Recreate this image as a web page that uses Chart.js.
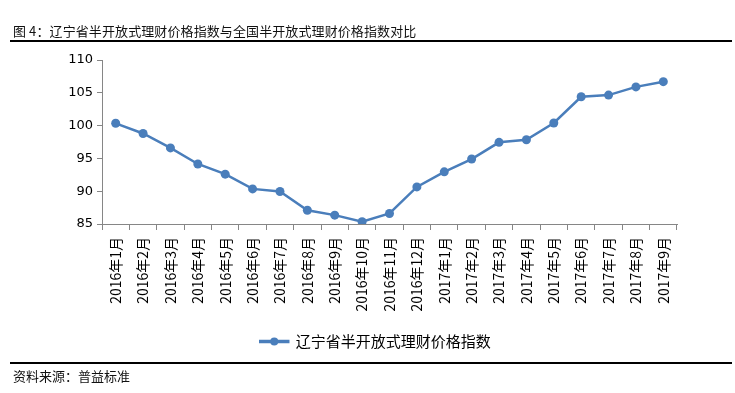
<!DOCTYPE html>
<html>
<head>
<meta charset="utf-8">
<script src="https://cdn.jsdelivr.net/npm/chart.js@4"></script>
<style>
    body { margin: 0; background: #fff; }
    #wrap { position: relative; width: 735px; height: 393px; overflow: hidden; }
    #grafico { position: absolute; left: 0; top: 0; }
    .titulo { position: absolute; left: 13px; top: 21px; font: 13px "Noto Sans CJK SC", sans-serif; color: #111; white-space: nowrap; letter-spacing: 0.1px; }
    .linea { position: absolute; left: 10px; width: 722px; height: 0; border-top: 2px solid #000; }
    .fuente { position: absolute; left: 13px; top: 366px; font: 13px "Noto Sans CJK SC", sans-serif; color: #111; white-space: nowrap; }
</style>
</head>
<body>
<div id="wrap">
    <canvas id="grafico" width="735" height="393"></canvas>
    <div class="titulo">图 4：辽宁省半开放式理财价格指数与全国半开放式理财价格指数对比</div>
    <div class="linea" style="top:40px"></div>
    <div class="linea" style="top:362px"></div>
    <div class="fuente">资料来源：普益标准</div>
</div>
<script>
const meses = [
    "2016年1月", "2016年2月", "2016年3月", "2016年4月", "2016年5月", "2016年6月",
    "2016年7月", "2016年8月", "2016年9月", "2016年10月", "2016年11月", "2016年12月",
    "2017年1月", "2017年2月", "2017年3月", "2017年4月", "2017年5月", "2017年6月",
    "2017年7月", "2017年8月", "2017年9月"
];
const indiceLiaoning = [
    100.35, 98.8, 96.6, 94.15, 92.6, 90.35, 89.95, 87.1, 86.35, 85.35, 86.6, 90.65,
    92.95, 94.9, 97.45, 97.85, 100.4, 104.4, 104.65, 105.9, 106.7
];
const nombreSerie = "辽宁省半开放式理财价格指数";
const ejeY = { min: 85, max: 110, paso: 5 };

const azul = "#4A7EBB";
const gris = "#868686";
const ctx = document.getElementById("grafico").getContext("2d");

// la leyenda del original esta mas a la derecha; se corre y se le pone el punto
const ajusteLeyenda = {
    id: "ajusteLeyenda",
    beforeDraw(chart) {
        const leyenda = chart.legend;
        if (!leyenda) return;
        const d = 37;
        leyenda.left += d;
        leyenda.right += d;
        leyenda.legendHitBoxes.forEach(h => { h.left += d; });
    },
    afterDraw(chart) {
        const leyenda = chart.legend;
        if (!leyenda || !leyenda.legendHitBoxes.length) return;
        const caja = leyenda.legendHitBoxes[0];
        const ancho = leyenda.options.labels.boxWidth;
        const c = chart.ctx;
        c.save();
        c.fillStyle = azul;
        c.beginPath();
        c.arc(caja.left + ancho / 2, caja.top + caja.height / 2, 4, 0, Math.PI * 2);
        c.fill();
        c.restore();
    }
};

const chart = new Chart(ctx, {
    type: "line",
    data: {
        labels: meses,
        datasets: [{
            label: nombreSerie,
            data: indiceLiaoning,
            borderColor: azul,
            backgroundColor: azul,
            borderWidth: 2.5,
            pointRadius: 4.5,
            pointBackgroundColor: azul,
            pointBorderColor: azul,
            pointBorderWidth: 0,
            tension: 0
        }]
    },
    options: {
        responsive: false,
        animation: false,
        devicePixelRatio: 1,
        layout: { padding: { top: 60, right: 58, bottom: 34, left: 0 } },
        plugins: {
            tooltip: { enabled: false },
            legend: {
                position: "bottom",
                labels: {
                    boxWidth: 28,
                    boxHeight: 1,
                    padding: 10,
                    color: "#000",
                    font: { family: "'Noto Sans CJK SC', sans-serif", size: 15 }
                }
            }
        },
        scales: {
            x: {
                offset: true,
                grid: { offset: true, drawOnChartArea: false, tickLength: 6, color: gris },
                border: { color: gris, width: 1 },
                ticks: {
                    minRotation: 90,
                    maxRotation: 90,
                    autoSkip: false,
                    padding: 7,
                    color: "#000",
                    font: { family: "'Noto Sans CJK SC', sans-serif", size: 14 }
                },
                afterFit(scale) { scale.height = 100; }
            },
            y: {
                min: ejeY.min,
                max: ejeY.max,
                grid: { drawOnChartArea: false, tickLength: 5, color: gris },
                border: { color: gris, width: 1 },
                ticks: {
                    stepSize: ejeY.paso,
                    padding: 4,
                    color: "#000",
                    font: { family: "'DejaVu Sans', sans-serif", size: 13 }
                },
                afterFit(scale) { scale.width = 102; }
            }
        }
    },
    plugins: [ajusteLeyenda]
});
</script>
</body>
</html>
